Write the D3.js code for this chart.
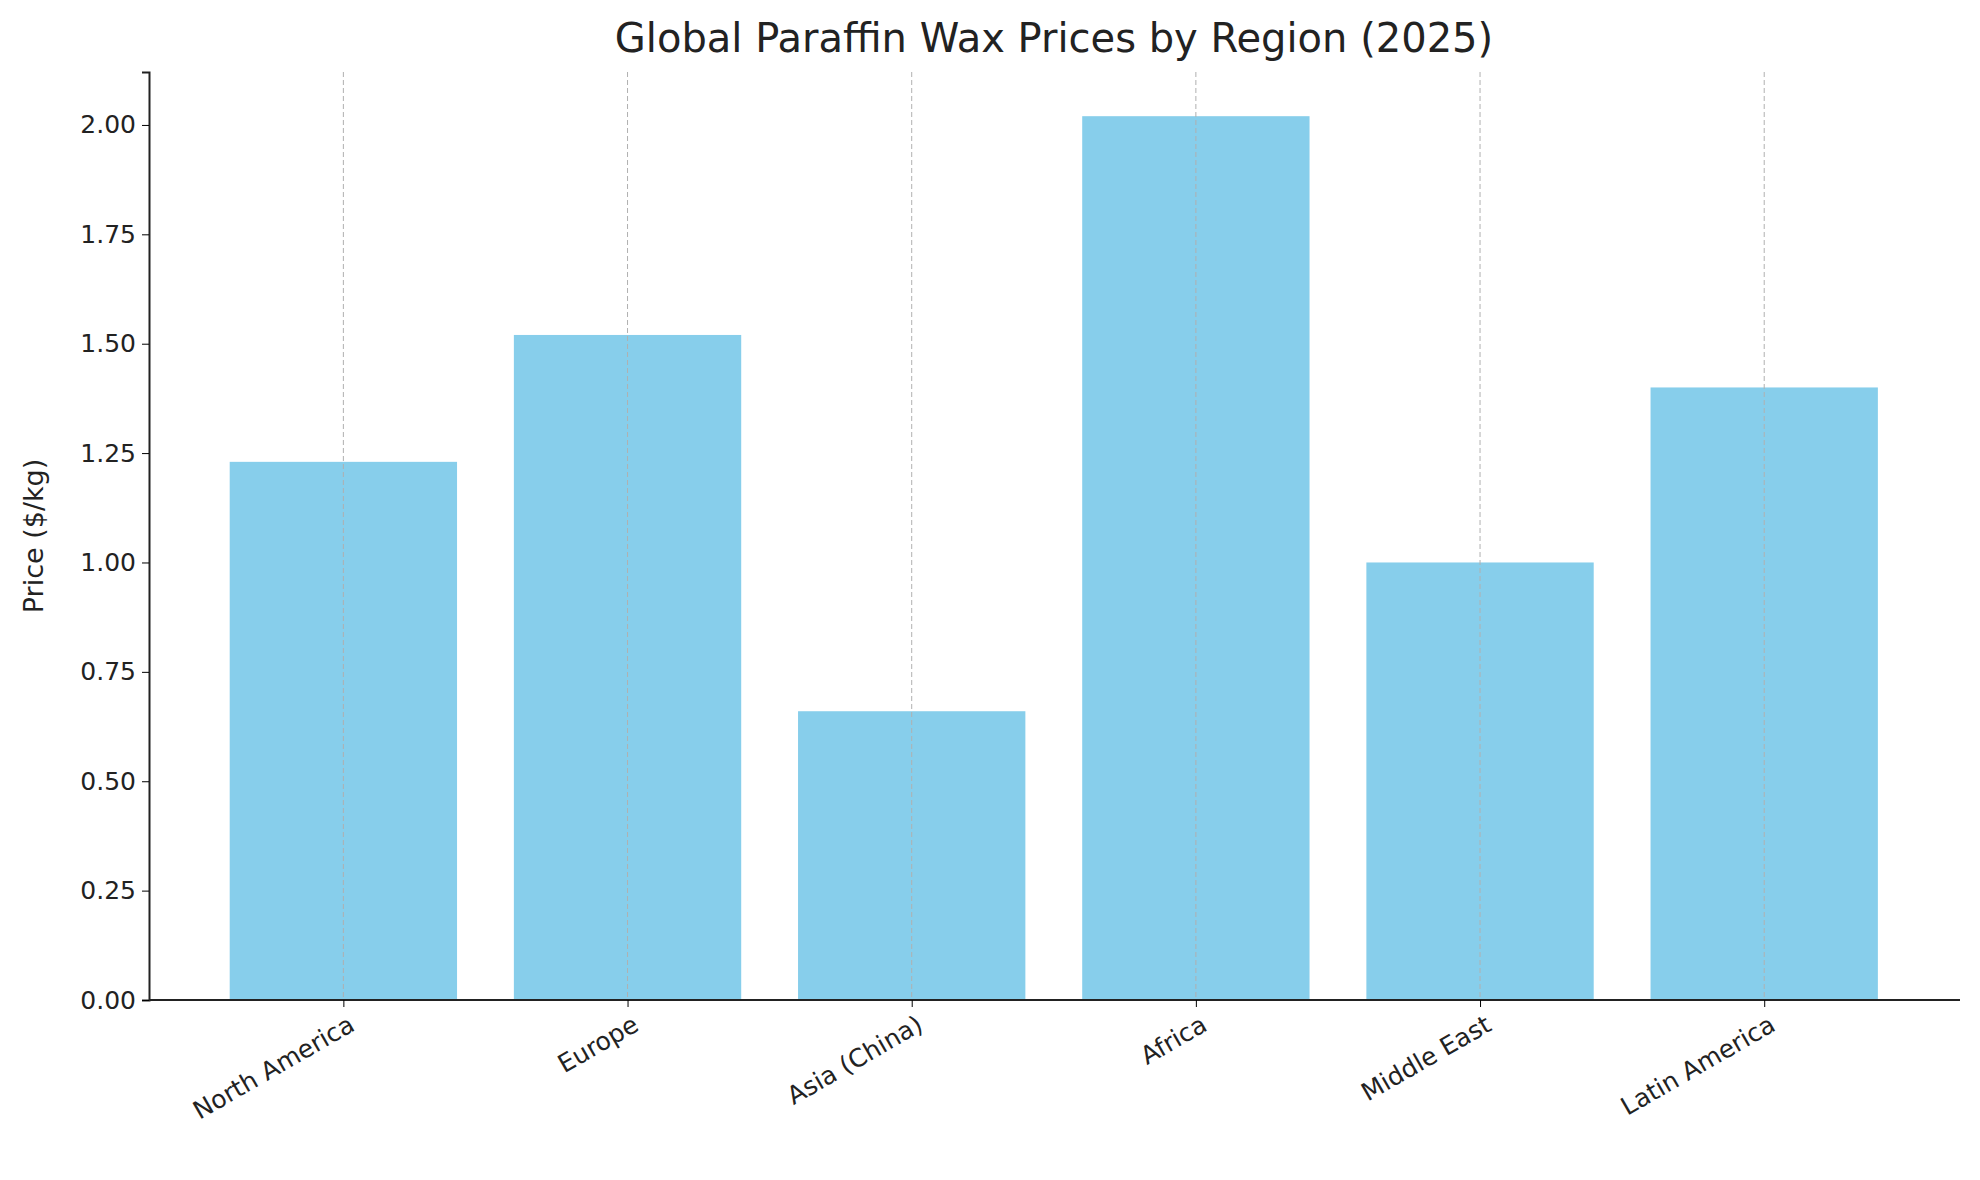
<!DOCTYPE html>
<html><head><meta charset="utf-8">
<script src="https://cdn.jsdelivr.net/npm/d3@7"></script>
<style>body{margin:0;background:#fff}text{font-family:"DejaVu Sans",sans-serif;fill:#222}</style>
</head><body>
<svg id="c" width="1980" height="1180"></svg>
<script>
const categories = ["North America","Europe","Asia (China)","Africa","Middle East","Latin America"];
const prices = [1.23,1.52,0.66,2.02,1.00,1.40];
const yTicks = [0,0.25,0.5,0.75,1.0,1.25,1.5,1.75,2.0];

const svg = d3.select("#c");
const L=149, R=1960, T=72, B=1000;
const x = d3.scaleLinear().domain([-0.684,5.689]).range([L,R]);
const y = d3.scaleLinear().domain([0,2.121]).range([B,T]);
const bw = x(0.8)-x(0);

svg.selectAll("rect.bar").data(prices).join("rect")
  .attr("x",(d,i)=>x(i)-bw/2).attr("width",bw)
  .attr("y",d=>y(d)).attr("height",d=>B-y(d)).attr("fill","#87ceeb");

svg.selectAll("line.grid").data(categories).join("line")
  .attr("x1",(d,i)=>x(i)).attr("x2",(d,i)=>x(i)).attr("y1",T).attr("y2",B)
  .attr("stroke","#b0b0b0").attr("stroke-width",1).attr("stroke-dasharray","5,3");

const ya = svg.append("g").attr("transform",`translate(${L},0)`)
  .call(d3.axisLeft(y).tickValues(yTicks).tickFormat(d3.format(".2f")).tickSize(7).tickPadding(6));
ya.select(".domain").attr("stroke","#222").attr("stroke-width",2);
ya.selectAll("text").style("font-size","25px").style("font-family","DejaVu Sans").attr("fill","#222");

const xa = svg.append("g").attr("transform",`translate(0,${B})`)
  .call(d3.axisBottom(x).tickValues(d3.range(6)).tickFormat(i=>categories[i]).tickSize(7));
xa.select(".domain").attr("d",`M${L},0H${R}`).attr("stroke","#222").attr("stroke-width",2);
xa.selectAll("text").style("font-size","25px").style("font-family","DejaVu Sans").attr("fill","#222")
  .attr("text-anchor","end").attr("dy","0.35em")
  .attr("transform","translate(8,22) rotate(-30)").attr("y",0).attr("x",0);

svg.append("text").attr("x",1054).attr("y",52).attr("text-anchor","middle")
  .style("font-size","40px").attr("fill","#333").text("Global Paraffin Wax Prices by Region (2025)");
svg.append("text").attr("transform",`translate(43,${(T+B)/2}) rotate(-90)`).attr("text-anchor","middle")
  .style("font-size","27px").text("Price ($/kg)");
</script>
</body></html>
